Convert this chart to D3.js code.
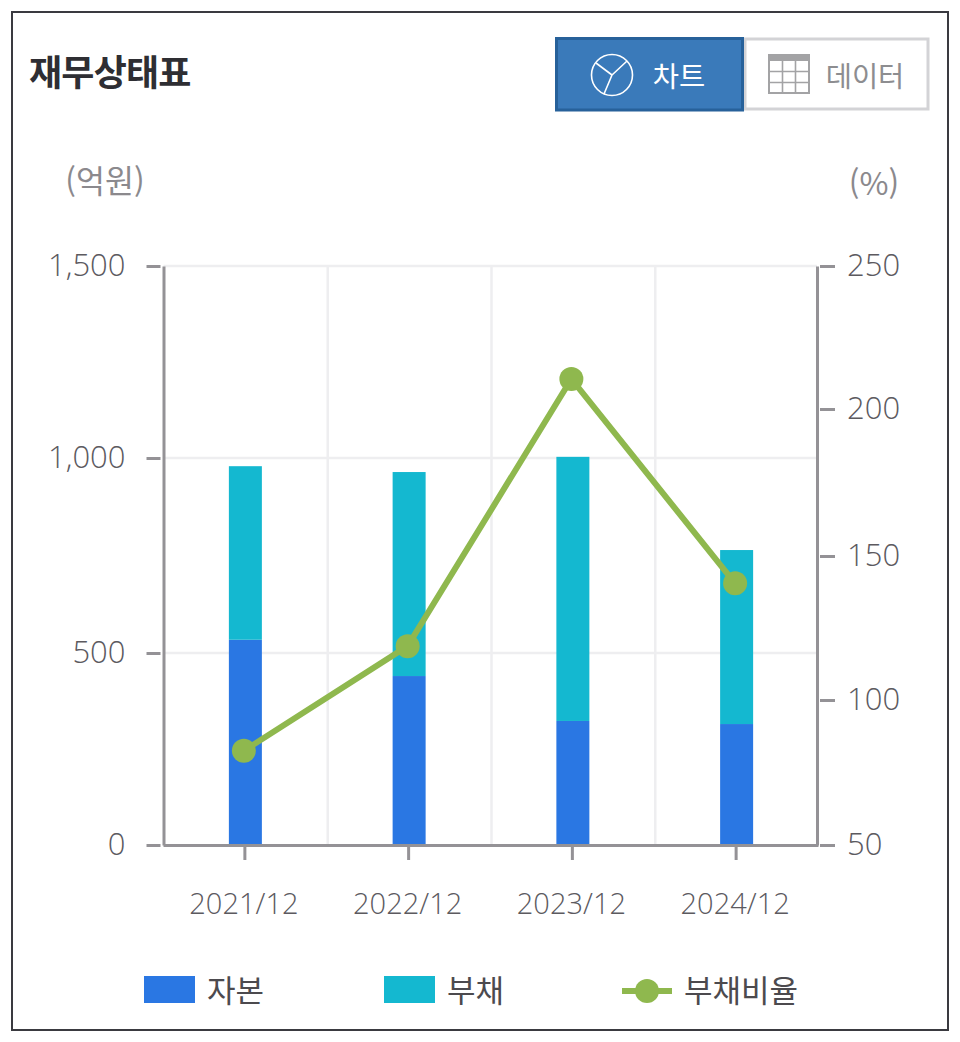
<!DOCTYPE html>
<html lang="ko">
<head>
<meta charset="utf-8">
<script src="https://cdn.jsdelivr.net/npm/d3@7/dist/d3.min.js"></script>
<style>
html,body{margin:0;padding:0;background:#fff;}
svg{display:block;}
text{font-family:"Noto Sans CJK KR","Noto Sans",sans-serif;}
</style>
</head>
<body>
<svg id="c" width="960" height="1042"></svg>
<script>
const categories = ["2021/12","2022/12","2023/12","2024/12"];
const equity = [534,440,323,315];
const debt = [445,524,680,449];
const debtRatio = [82.5,118.7,210.5,140.5];
const leftTicks = [0,500,1000,1500];
const rightTicks = [50,100,150,200,250];
const legendLabels = ["자본","부채","부채비율"];
const colors = {equity:"#2a77e3",debt:"#14b8d0",ratio:"#8fb84e",axis:"#949296",grid:"#eeeef0",tick:"#5c5a5f"};

const svg = d3.select("#c");
const L=163.5,R=817,T=266,B=845;
const x = d3.scaleBand().domain(categories).range([163.5,818.5]);
const yL = d3.scaleLinear().domain(leftTicks).range([845,653,458,266]);
const yR = d3.scaleLinear().domain(rightTicks).range([845,700,556,409,266]);

// frame
svg.append("rect").attr("x",12).attr("y",12).attr("width",936).attr("height",1018)
  .attr("fill","#fff").attr("stroke","#3a3a40").attr("stroke-width",2);

// title
svg.append("text").attr("x",29).attr("y",86).attr("font-size",36).attr("font-weight",700)
  .attr("letter-spacing",-0.8).attr("fill","#2e2e33").text("재무상태표");

// toggle buttons
svg.append("rect").attr("x",745).attr("y",39).attr("width",183).attr("height",70).attr("fill","#fff").attr("stroke","#d3d3d6").attr("stroke-width",3);
svg.append("rect").attr("x",556.5).attr("y",38.5).attr("width",186).attr("height",71.5).attr("fill","#3a7aba").attr("stroke","#27619a").attr("stroke-width",3);
const ic = svg.append("g").attr("transform","translate(612,75)").attr("fill","none").attr("stroke","#fff").attr("stroke-width",1.6);
ic.append("circle").attr("r",20.5);
ic.append("path").attr("d","M0,0L-16,-12M0,0L15,-14M0,0L-8,19");
svg.append("text").attr("x",679).attr("y",87).attr("text-anchor","middle").attr("font-size",28.5).attr("fill","#fff").text("차트");
const tb = svg.append("g").attr("transform","translate(769,55)");
tb.append("rect").attr("x",0).attr("y",0).attr("width",40).attr("height",38).attr("fill","none").attr("stroke","#a3a3a5").attr("stroke-width",2);
tb.append("rect").attr("x",0).attr("y",0).attr("width",40).attr("height",6).attr("fill","#a3a3a5");
tb.append("path").attr("d","M13.5,6V38M26.5,6V38M0,16.5H40M0,27.5H40").attr("stroke","#a3a3a5").attr("stroke-width",1.6).attr("fill","none");
svg.append("text").attr("x",865).attr("y",87).attr("text-anchor","middle").attr("font-size",28.5).attr("fill","#8d8d90").text("데이터");

// unit labels
svg.append("text").attr("x",105).attr("y",193).attr("text-anchor","middle").attr("font-size",31.5).attr("fill","#8b898d").text("(억원)");
svg.append("text").attr("x",874).attr("y",195).attr("text-anchor","middle").attr("font-size",31.5).attr("fill","#8b898d").text("(%)");

// grid
const grid = svg.append("g").attr("stroke",colors.grid).attr("stroke-width",2.5);
leftTicks.filter(d=>d>0).forEach(d=>grid.append("line").attr("x1",L).attr("x2",R).attr("y1",yL(d)).attr("y2",yL(d)));
categories.slice(1).forEach(c=>grid.append("line").attr("x1",x(c)+0.5).attr("x2",x(c)+0.5).attr("y1",T).attr("y2",B));

// bars
const cx = c=>x(c)+x.bandwidth()/2;
const bw = 33;
svg.append("g").selectAll("rect").data(categories).join("rect")
  .attr("x",c=>cx(c)-bw/2).attr("width",bw)
  .attr("y",(c,i)=>yL(equity[i])).attr("height",(c,i)=>yL(0)-yL(equity[i]))
  .attr("fill",colors.equity);
svg.append("g").selectAll("rect").data(categories).join("rect")
  .attr("x",c=>cx(c)-bw/2).attr("width",bw)
  .attr("y",(c,i)=>yL(equity[i]+debt[i])).attr("height",(c,i)=>yL(equity[i])-yL(equity[i]+debt[i]))
  .attr("fill",colors.debt);

// axes
function style(g){
  g.selectAll(".domain").attr("stroke",colors.axis).attr("stroke-width",3);
  g.selectAll(".tick line").attr("stroke",colors.axis).attr("stroke-width",3);
  g.selectAll(".tick text").attr("fill",colors.tick).attr("font-size",31).attr("font-weight",300)
    .style("font-family",'"Open Sans","Noto Sans",sans-serif');
}
const aL = svg.append("g").attr("transform",`translate(${L},0)`)
  .call(d3.axisLeft(yL).tickValues(leftTicks).tickFormat(d3.format(",")).tickSize(17).tickSizeOuter(0).tickPadding(21));
style(aL);
aL.selectAll(".tick line").attr("x1",-3);
const aR = svg.append("g").attr("transform",`translate(${R},0)`)
  .call(d3.axisRight(yR).tickValues(rightTicks).tickFormat(d3.format("d")).tickSize(18).tickSizeOuter(0).tickPadding(12));
style(aR);
aR.selectAll(".tick line").attr("x1",3);
const aB = svg.append("g").attr("transform",`translate(-0.5,${B})`)
  .call(d3.axisBottom(x).tickSize(15).tickSizeOuter(0).tickPadding(33));
style(aB);
aB.selectAll(".tick text").attr("font-size",29).attr("dx",-1);

// line
const lx = (d,i)=>cx(categories[i])-1.5;
const line = d3.line().x(lx).y(d=>yR(d));
svg.append("path").datum(debtRatio).attr("d",line).attr("fill","none").attr("stroke",colors.ratio).attr("stroke-width",6);
svg.append("g").selectAll("circle").data(debtRatio).join("circle")
  .attr("cx",lx).attr("cy",d=>yR(d)).attr("r",12).attr("fill",colors.ratio);

// legend
const lg = svg.append("g");
lg.append("rect").attr("x",144).attr("y",976).attr("width",51).attr("height",27).attr("fill",colors.equity);
lg.append("text").attr("x",207).attr("y",1002).attr("font-size",31).attr("fill","#4c4a4e").text(legendLabels[0]);
lg.append("rect").attr("x",384).attr("y",976).attr("width",51).attr("height",27).attr("fill",colors.debt);
lg.append("text").attr("x",447).attr("y",1002).attr("font-size",31).attr("fill","#4c4a4e").text(legendLabels[1]);
lg.append("line").attr("x1",622).attr("x2",672).attr("y1",991).attr("y2",991).attr("stroke",colors.ratio).attr("stroke-width",6);
lg.append("circle").attr("cx",647).attr("cy",991).attr("r",12).attr("fill",colors.ratio);
lg.append("text").attr("x",684).attr("y",1002).attr("font-size",31).attr("fill","#4c4a4e").text(legendLabels[2]);
</script>
</body>
</html>
